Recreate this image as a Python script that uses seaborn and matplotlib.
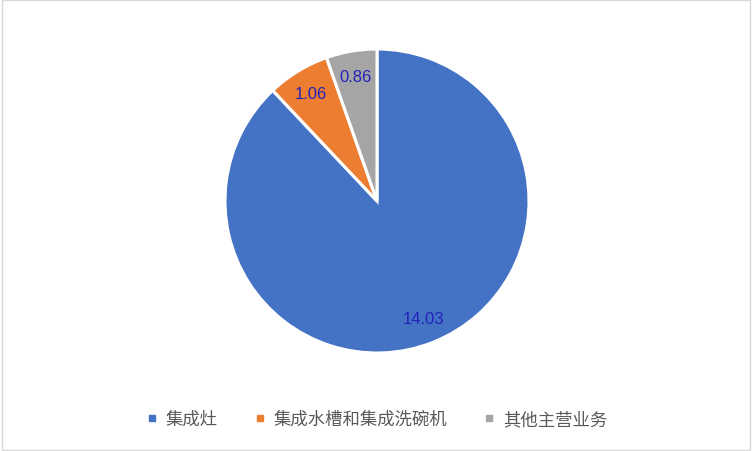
import matplotlib
matplotlib.use("Agg")
import matplotlib.pyplot as plt
from matplotlib.lines import Line2D
from matplotlib.patches import Rectangle
import seaborn as sns

# === 数据 ===
categories = ["集成灶", "集成水槽和集成洗碗机", "其他主营业务"]
values = [14.03, 1.06, 0.86]
colors = ["#4472C4", "#ED7D31", "#A5A5A5"]

sns.set_theme(style="white")
plt.rcParams['font.family'] = ['Noto Sans CJK SC', 'DejaVu Sans']

fig = plt.figure(figsize=(7.52, 4.52), dpi=100)
# 饼图区域 (中心约 377,202，半径约 152 像素)
ax = fig.add_axes([225 / 752, 98 / 452, 304 / 752, 304 / 452])

wedges, texts, autotexts = ax.pie(
    values,
    colors=sns.color_palette(colors),
    startangle=90,
    counterclock=False,
    autopct=lambda p: f"{p * sum(values) / 100:.2f}",
    pctdistance=0.83,
    wedgeprops=dict(edgecolor="white", linewidth=2.2),
    textprops=dict(color="#2222BB", fontsize=12, family=['Liberation Sans', 'DejaVu Sans']),
)
ax.set_xlim(-1, 1)
ax.set_ylim(-1, 1)
ax.set_aspect("equal")

# 图例
handles = [Line2D([0], [0], marker='s', color='none', markerfacecolor=c,
                  markeredgecolor=c, markersize=5) for c in colors]
fig.legend(handles, categories, loc='center', bbox_to_anchor=(0.5, 1 - 420 / 452),
           ncol=3, frameon=False, fontsize=12.5, labelcolor="#595959",
           handlelength=0.8, handletextpad=0.4, columnspacing=2.0)

# 外框
fig.patches.append(Rectangle((0.002, 0.003), 0.996, 0.994, transform=fig.transFigure,
                             fill=False, edgecolor="#D9D9D9", linewidth=1))

fig.savefig("out.png", dpi=100)
plt.close(fig)
